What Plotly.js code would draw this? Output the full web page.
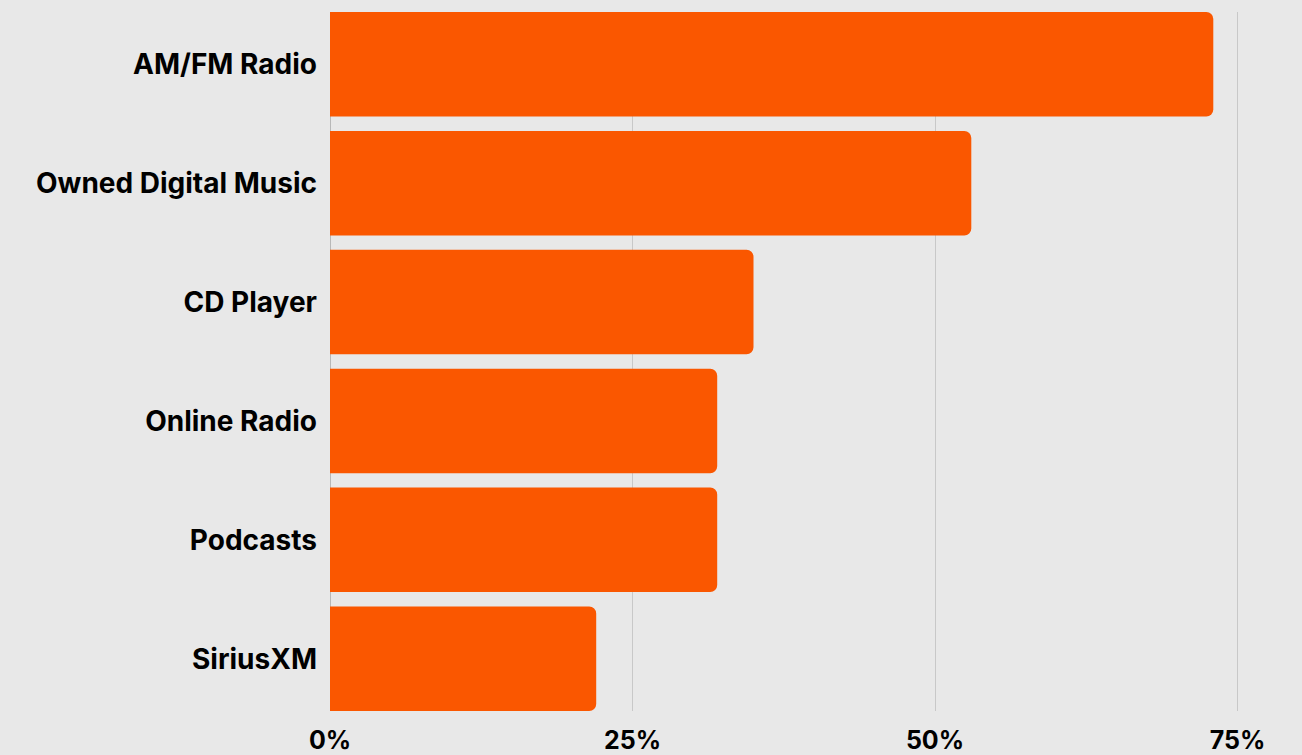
<!DOCTYPE html>
<html>
<head>
<meta charset="utf-8">
<script src="https://cdn.plot.ly/plotly-3.0.1.min.js"></script>
<style>html,body{margin:0;padding:0;background:#e8e8e8;}#chart{width:1302px;height:755px;}</style>
</head>
<body>
<div id="chart"></div>
<script>
const categories = ["AM/FM Radio", "Owned Digital Music", "CD Player", "Online Radio", "Podcasts", "SiriusXM"];
const values = [73, 53, 35, 32, 32, 22];
const tickVals = [0, 25, 50, 75];
const tickText = ["0%", "25%", "50%", "75%"];

const gap = 0.12;
const trace = {
  type: "bar",
  orientation: "h",
  y: categories,
  x: values,
  marker: {color: "#fa5700", cornerradius: 7},
  hoverinfo: "none"
};
const layout = {
  width: 1302, height: 755,
  paper_bgcolor: "#e8e8e8", plot_bgcolor: "#e8e8e8",
  margin: {l: 330, r: 4, t: 12, b: 44},
  bargap: gap,
  showlegend: false,
  font: {family: "Inter, 'Open Sans', sans-serif", color: "#000000"},
  xaxis: {
    range: [0, 80], tickvals: tickVals, ticktext: tickText,
    showgrid: true, gridcolor: "#c8c8c8", gridwidth: 1,
    zeroline: true, zerolinecolor: "#b8b8b8", zerolinewidth: 1,
    showline: false, ticks: "", ticklabelstandoff: 12,
    tickfont: {size: 25, family: "Inter, sans-serif", weight: 700, color: "#000"}
  },
  yaxis: {
    range: [categories.length - 0.5 - gap / 2, -0.5 + gap / 2],
    showgrid: false, zeroline: false, showline: false,
    ticks: "", ticklabelstandoff: 12,
    tickfont: {size: 28, family: "Inter, sans-serif", weight: 700, color: "#000"}
  }
};
Plotly.newPlot("chart", [trace], layout, {staticPlot: true, displayModeBar: false});
</script>
</body>
</html>
